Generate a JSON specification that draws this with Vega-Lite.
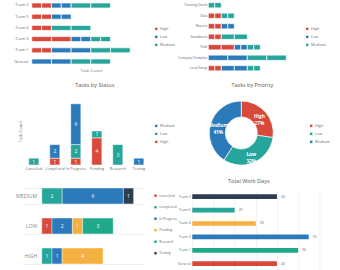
{
  "$schema": "https://vega.github.io/schema/vega-lite/v6.json",
  "background": "white",
  "padding": {"left": 13.3, "top": 0, "right": 0, "bottom": 0},
  "columns": 2,
  "align": "none",
  "spacing": {"row": 8, "column": -1},
  "resolve": {"scale": {"color": "independent", "x": "independent", "y": "independent"}, "legend": {"color": "independent"}},
  "config": {
    "font": "Open Sans",
    "view": {"stroke": null},
    "axis": {"domain": false, "ticks": false, "grid": false, "labelFontSize": 3.8, "labelColor": "#666", "titleFontSize": 4.2, "titleColor": "#777", "titleFontWeight": "normal", "labelFont": "Open Sans", "titleFont": "Open Sans"},
    "legend": {"labelFontSize": 3.8, "labelColor": "#666", "symbolType": "square", "symbolSize": 6, "rowPadding": 3, "symbolStrokeWidth": 0, "padding": 0, "labelFont": "Open Sans", "labelOffset": 2},
    "title": {"fontSize": 5.5, "color": "#555", "fontWeight": "normal", "font": "Open Sans", "anchor": "middle"}
  },
  "concat": [
    {
      "width": 126.5,
      "height": 67,
      "data": {"values": [
        {"team": "Team 2", "priority": "High", "ord": 1, "v": 1},
        {"team": "Team 2", "priority": "High", "ord": 2, "v": 1},
        {"team": "Team 2", "priority": "Low", "ord": 3, "v": 1},
        {"team": "Team 2", "priority": "Low", "ord": 4, "v": 1},
        {"team": "Team 2", "priority": "Medium", "ord": 5, "v": 2},
        {"team": "Team 2", "priority": "Medium", "ord": 6, "v": 2},
        {"team": "Team 5", "priority": "High", "ord": 1, "v": 1},
        {"team": "Team 5", "priority": "High", "ord": 2, "v": 1},
        {"team": "Team 5", "priority": "Low", "ord": 3, "v": 1},
        {"team": "Team 5", "priority": "Low", "ord": 4, "v": 1},
        {"team": "Team 4", "priority": "High", "ord": 1, "v": 1},
        {"team": "Team 4", "priority": "High", "ord": 2, "v": 1},
        {"team": "Team 4", "priority": "Medium", "ord": 5, "v": 2},
        {"team": "Team 4", "priority": "Medium", "ord": 6, "v": 2},
        {"team": "Team 3", "priority": "High", "ord": 1, "v": 2},
        {"team": "Team 3", "priority": "High", "ord": 2, "v": 2},
        {"team": "Team 3", "priority": "Low", "ord": 3, "v": 1},
        {"team": "Team 3", "priority": "Low", "ord": 4, "v": 1},
        {"team": "Team 3", "priority": "Medium", "ord": 5, "v": 1},
        {"team": "Team 3", "priority": "Medium", "ord": 6, "v": 1},
        {"team": "Team 1", "priority": "High", "ord": 1, "v": 1},
        {"team": "Team 1", "priority": "High", "ord": 2, "v": 1},
        {"team": "Team 1", "priority": "Low", "ord": 3, "v": 2},
        {"team": "Team 1", "priority": "Low", "ord": 4, "v": 2},
        {"team": "Team 1", "priority": "Medium", "ord": 5, "v": 2},
        {"team": "Team 1", "priority": "Medium", "ord": 6, "v": 2},
        {"team": "General", "priority": "Low", "ord": 3, "v": 2},
        {"team": "General", "priority": "Low", "ord": 4, "v": 2},
        {"team": "General", "priority": "Medium", "ord": 5, "v": 2},
        {"team": "General", "priority": "Medium", "ord": 6, "v": 2}
      ]},
      "mark": {"type": "bar", "stroke": "white", "strokeWidth": 0.7},
      "encoding": {
        "y": {"field": "team", "type": "nominal", "sort": ["Team 2", "Team 5", "Team 4", "Team 3", "Team 1", "General"], "scale": {"paddingInner": 0.55, "paddingOuter": 0.265}, "axis": {"title": null, "labelPadding": -4.5}},
        "x": {"field": "v", "type": "quantitative", "stack": "zero", "scale": {"domain": [-0.865, 12], "nice": false, "zero": false}, "axis": {"labels": false, "title": "Task Count", "titlePadding": 1, "titleX": 67.5}},
        "color": {"field": "priority", "type": "nominal", "scale": {"domain": ["High", "Low", "Medium"], "range": ["#d9493b", "#2b7bba", "#26a69a"]}, "legend": {"title": null, "orient": "none", "legendX": 131, "legendY": 27}},
        "order": {"field": "ord", "type": "quantitative"}
      }
    },
    {
      "width": 91,
      "height": 73.5,
      "data": {"values": [
        {"cat": "Tracking Charts", "priority": "Medium", "ord": 5, "v": 1},
        {"cat": "Tracking Charts", "priority": "Medium", "ord": 6, "v": 1},
        {"cat": "Data", "priority": "High", "ord": 1, "v": 1},
        {"cat": "Data", "priority": "High", "ord": 2, "v": 1},
        {"cat": "Data", "priority": "Medium", "ord": 5, "v": 1},
        {"cat": "Data", "priority": "Medium", "ord": 6, "v": 1},
        {"cat": "Reports", "priority": "High", "ord": 1, "v": 1},
        {"cat": "Reports", "priority": "High", "ord": 2, "v": 1},
        {"cat": "Reports", "priority": "Low", "ord": 3, "v": 1},
        {"cat": "Reports", "priority": "Low", "ord": 4, "v": 1},
        {"cat": "Standalone", "priority": "High", "ord": 1, "v": 1},
        {"cat": "Standalone", "priority": "High", "ord": 2, "v": 1},
        {"cat": "Standalone", "priority": "Medium", "ord": 5, "v": 2},
        {"cat": "Standalone", "priority": "Medium", "ord": 6, "v": 2},
        {"cat": "Field", "priority": "High", "ord": 1, "v": 2},
        {"cat": "Field", "priority": "High", "ord": 2, "v": 2},
        {"cat": "Field", "priority": "Low", "ord": 3, "v": 1},
        {"cat": "Field", "priority": "Low", "ord": 4, "v": 1},
        {"cat": "Field", "priority": "Medium", "ord": 5, "v": 1},
        {"cat": "Field", "priority": "Medium", "ord": 6, "v": 1},
        {"cat": "Company Template", "priority": "Low", "ord": 3, "v": 3},
        {"cat": "Company Template", "priority": "Low", "ord": 4, "v": 3},
        {"cat": "Company Template", "priority": "Medium", "ord": 5, "v": 3},
        {"cat": "Company Template", "priority": "Medium", "ord": 6, "v": 3},
        {"cat": "Local Setup", "priority": "High", "ord": 1, "v": 1},
        {"cat": "Local Setup", "priority": "High", "ord": 2, "v": 1},
        {"cat": "Local Setup", "priority": "Low", "ord": 3, "v": 2},
        {"cat": "Local Setup", "priority": "Low", "ord": 4, "v": 2},
        {"cat": "Local Setup", "priority": "Medium", "ord": 5, "v": 1},
        {"cat": "Local Setup", "priority": "Medium", "ord": 6, "v": 1}
      ]},
      "mark": {"type": "bar", "stroke": "white", "strokeWidth": 0.7},
      "encoding": {
        "y": {"field": "cat", "type": "nominal", "sort": ["Tracking Charts", "Data", "Reports", "Standalone", "Field", "Company Template", "Local Setup"], "scale": {"paddingInner": 0.5, "paddingOuter": 0.25}, "axis": {"title": null, "labelPadding": 1.5, "labelFontSize": 3.2}},
        "x": {"field": "v", "type": "quantitative", "stack": "zero", "scale": {"domain": [0, 14], "nice": false}, "axis": null},
        "color": {"field": "priority", "type": "nominal", "scale": {"domain": ["High", "Low", "Medium"], "range": ["#d9493b", "#2b7bba", "#26a69a"]}, "legend": {"title": null, "orient": "none", "legendX": 97, "legendY": 27}},
        "order": {"field": "ord", "type": "quantitative"}
      }
    },
    {
      "width": 126,
      "height": 68,
      "title": {"text": "Tasks by Status", "offset": 9, "dx": 8.5},
      "data": {"values": [
        {"status": "Cancelled", "prio": "Low", "ord": 2, "v": 1},
        {"status": "Completed", "prio": "High", "ord": 1, "v": 1},
        {"status": "Completed", "prio": "Medium", "ord": 3, "v": 2},
        {"status": "In Progress", "prio": "High", "ord": 1, "v": 1},
        {"status": "In Progress", "prio": "Low", "ord": 2, "v": 2},
        {"status": "In Progress", "prio": "Medium", "ord": 3, "v": 6},
        {"status": "Pending", "prio": "High", "ord": 1, "v": 4},
        {"status": "Pending", "prio": "Low", "ord": 2, "v": 1},
        {"status": "Research", "prio": "Low", "ord": 2, "v": 3},
        {"status": "Testing", "prio": "Medium", "ord": 3, "v": 1}
      ]},
      "encoding": {
        "x": {"field": "status", "type": "nominal", "sort": ["Cancelled", "Completed", "In Progress", "Pending", "Research", "Testing"], "scale": {"paddingInner": 0.52, "paddingOuter": 0.26}, "axis": {"title": null, "labelAngle": 0, "labelPadding": 1.5}},
        "order": {"field": "ord", "type": "quantitative"}
      },
      "layer": [
        {
          "mark": {"type": "bar", "stroke": "white", "strokeWidth": 0.5},
          "encoding": {
            "y": {"field": "v", "type": "quantitative", "stack": "zero", "scale": {"domain": [0, 10], "nice": false}, "axis": {"labels": false, "title": "Task Count", "titlePadding": 1}},
            "color": {"field": "prio", "type": "nominal", "scale": {"domain": ["Medium", "Low", "High"], "range": ["#2b7bba", "#26a69a", "#d9493b"]}, "legend": {"title": null, "orient": "none", "legendX": 131, "legendY": 27}}
          }
        },
        {
          "mark": {"type": "text", "color": "white", "fontSize": 5, "baseline": "middle"},
          "encoding": {
            "y": {"field": "v", "type": "quantitative", "stack": "zero", "bandPosition": 0.5},
            "detail": {"field": "prio", "type": "nominal"},
            "text": {"field": "v", "type": "quantitative"}
          }
        }
      ]
    },
    {
      "width": 128,
      "height": 72,
      "title": {"text": "Tasks by Priority", "offset": 9, "dx": 11},
      "data": {"values": [
        {"prio": "High", "n": 6, "ord": 1, "lab": "High\n27%"},
        {"prio": "Low", "n": 7, "ord": 2, "lab": "Low\n32%"},
        {"prio": "Medium", "n": 9, "ord": 3, "lab": "Medium\n41%"}
      ]},
      "encoding": {
        "theta": {"field": "n", "type": "quantitative", "stack": true},
        "order": {"field": "ord", "type": "quantitative"}
      },
      "layer": [
        {
          "mark": {"type": "arc", "innerRadius": 16, "outerRadius": 32, "stroke": "white", "strokeWidth": 0.7},
          "encoding": {
            "color": {"field": "prio", "type": "nominal", "scale": {"domain": ["High", "Low", "Medium"], "range": ["#d9493b", "#26a69a", "#2b7bba"]}, "legend": {"title": null, "orient": "none", "legendX": 132, "legendY": 27}}
          }
        },
        {
          "mark": {"type": "text", "radius": 24, "color": "white", "fontSize": 4.8, "fontWeight": "bold", "lineBreak": "\n", "baseline": "middle"},
          "encoding": {"text": {"field": "lab", "type": "nominal"}}
        }
      ]
    },
    {
      "width": 120.5,
      "height": 90,
      "data": {"values": [
        {"p": "MEDIUM", "status": "Completed", "ord": 2, "v": 2},
        {"p": "MEDIUM", "status": "In Progress", "ord": 3, "v": 6},
        {"p": "MEDIUM", "status": "Testing", "ord": 6, "v": 1},
        {"p": "LOW", "status": "Cancelled", "ord": 1, "v": 1},
        {"p": "LOW", "status": "In Progress", "ord": 3, "v": 2},
        {"p": "LOW", "status": "Pending", "ord": 4, "v": 1},
        {"p": "LOW", "status": "Research", "ord": 5, "v": 3},
        {"p": "HIGH", "status": "Completed", "ord": 2, "v": 1},
        {"p": "HIGH", "status": "In Progress", "ord": 3, "v": 1},
        {"p": "HIGH", "status": "Pending", "ord": 4, "v": 4}
      ]},
      "encoding": {
        "y": {"field": "p", "type": "nominal", "sort": ["MEDIUM", "LOW", "HIGH"], "scale": {"paddingInner": 0.47, "paddingOuter": 0.235}, "axis": {"title": null, "labelPadding": -13.5, "labelFontSize": 5.2, "labelColor": "#888", "grid": true, "gridColor": "#e6e6e6", "gridWidth": 0.6, "tickBand": "extent"}},
        "order": {"field": "ord", "type": "quantitative"}
      },
      "layer": [
        {
          "mark": {"type": "bar", "stroke": "white", "strokeWidth": 0.4},
          "encoding": {
            "x": {"field": "v", "type": "quantitative", "stack": "zero", "scale": {"domain": [-1.814, 10], "nice": false, "zero": false}, "axis": null},
            "color": {"field": "status", "type": "nominal", "scale": {"domain": ["Cancelled", "Completed", "In Progress", "Pending", "Research", "Testing"], "range": ["#d9493b", "#26a69a", "#2b7bba", "#f5b041", "#1fa98a", "#2c3e50"]}, "legend": {"title": null, "orient": "none", "legendX": 130.5, "legendY": 13, "rowPadding": 6.5, "labelFontSize": 3.4}}
          }
        },
        {
          "mark": {"type": "text", "color": "white", "fontSize": 5, "baseline": "middle"},
          "encoding": {
            "x": {"field": "v", "type": "quantitative", "stack": "zero", "bandPosition": 0.5},
            "detail": {"field": "status", "type": "nominal"},
            "text": {"field": "v", "type": "quantitative"}
          }
        }
      ]
    },
    {
      "width": 127,
      "height": 80.4,
      "title": {"text": "Total Work Days", "offset": 5.5, "dx": -7},
      "data": {"values": [
        {"team": "Team 2", "days": 40},
        {"team": "Team 5", "days": 20},
        {"team": "Team 4", "days": 30},
        {"team": "Team 3", "days": 55},
        {"team": "Team 1", "days": 50},
        {"team": "General", "days": 40}
      ]},
      "encoding": {
        "y": {"field": "team", "type": "nominal", "sort": ["Team 2", "Team 5", "Team 4", "Team 3", "Team 1", "General"], "scale": {"paddingInner": 0.65, "paddingOuter": 0.325}, "axis": {"title": null, "labelPadding": 2, "labelFontSize": 3.5}},
        "x": {"field": "days", "type": "quantitative", "scale": {"domain": [0, 60], "nice": false}, "axis": {"labels": false, "title": null, "grid": true, "gridColor": "#e6e6e6", "gridWidth": 0.6, "values": [0, 10, 20, 30, 40, 50, 60]}}
      },
      "layer": [
        {
          "mark": {"type": "bar"},
          "encoding": {
            "color": {"field": "team", "type": "nominal", "scale": {"domain": ["Team 2", "Team 5", "Team 4", "Team 3", "Team 1", "General"], "range": ["#2c3e50", "#26a69a", "#f5b041", "#2b7bba", "#1fa98a", "#d9493b"]}, "legend": null}
          }
        },
        {
          "mark": {"type": "text", "align": "left", "dx": 4, "fontSize": 3.5, "color": "#666", "baseline": "middle"},
          "encoding": {"text": {"field": "days", "type": "quantitative"}}
        }
      ]
    }
  ]
}
